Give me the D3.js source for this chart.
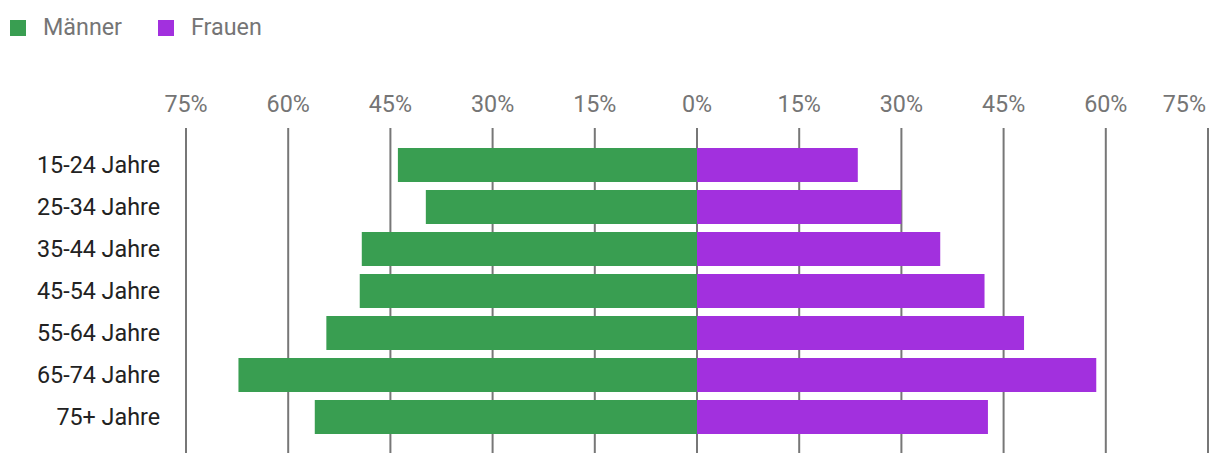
<!DOCTYPE html>
<html><head><meta charset="utf-8">
<script src="https://cdn.jsdelivr.net/npm/d3@7"></script>
<style>html,body{margin:0;padding:0;background:#fff;}svg{display:block;font-family:Roboto,"Noto Sans",Arial,sans-serif;}</style>
</head><body>
<svg id="c" width="1220" height="466"></svg>
<script>
const categories = ["15-24 Jahre","25-34 Jahre","35-44 Jahre","45-54 Jahre","55-64 Jahre","65-74 Jahre","75+ Jahre"];
const maenner = [43.9, 39.8, 49.2, 49.5, 54.4, 67.3, 56.1];
const frauen  = [23.6, 30.0, 35.7, 42.2, 48.0, 58.6, 42.7];
const seriesNames = ["Männer","Frauen"];
const seriesColors = ["#399e51","#a230de"];
const tickValues = [-75,-60,-45,-30,-15,0,15,30,45,60,75];

const svg = d3.select("#c");
const fs = 23.3;
const x = d3.scaleLinear().domain([-75,75]).range([186,1208]);
const y = d3.scaleBand().domain(categories).range([144,438]).paddingInner(8/42).paddingOuter(4/42);

// legend
const lg = svg.append("g");
seriesNames.forEach((n,i)=>{
  const off = i===0 ? 10 : 158;
  lg.append("rect").attr("x",off).attr("y",20).attr("width",16).attr("height",16).attr("fill",seriesColors[i]);
  lg.append("text").attr("x",off+33).attr("y",34.5).attr("font-size",fs).attr("fill","#757575").text(n);
});

// gridlines
svg.append("g").selectAll("line").data(tickValues).join("line")
  .attr("x1",d=>x(d)).attr("x2",d=>x(d)).attr("y1",128).attr("y2",453)
  .attr("stroke","#777").attr("stroke-width",2);

// tick labels
svg.append("g").selectAll("text").data(tickValues).join("text")
  .attr("x",(d,i)=> i===tickValues.length-1 ? x(d)-2 : x(d))
  .attr("y",112)
  .attr("text-anchor",(d,i)=> i===tickValues.length-1 ? "end" : "middle")
  .attr("font-size",fs).attr("fill","#757575")
  .text(d=>Math.abs(d)+"%");

// bars
svg.append("g").selectAll("rect").data(categories).join("rect")
  .attr("x",(d,i)=>x(-maenner[i])).attr("width",(d,i)=>x(0)-x(-maenner[i]))
  .attr("y",d=>y(d)).attr("height",y.bandwidth()).attr("fill",seriesColors[0]);
svg.append("g").selectAll("rect").data(categories).join("rect")
  .attr("x",x(0)).attr("width",(d,i)=>x(frauen[i])-x(0))
  .attr("y",d=>y(d)).attr("height",y.bandwidth()).attr("fill",seriesColors[1]);

// category labels
svg.append("g").selectAll("text").data(categories).join("text")
  .attr("x",160).attr("y",d=>y(d)+y.bandwidth()/2+8)
  .attr("text-anchor","end").attr("font-size",fs).attr("fill","#222")
  .text(d=>d);
</script>
</body></html>
